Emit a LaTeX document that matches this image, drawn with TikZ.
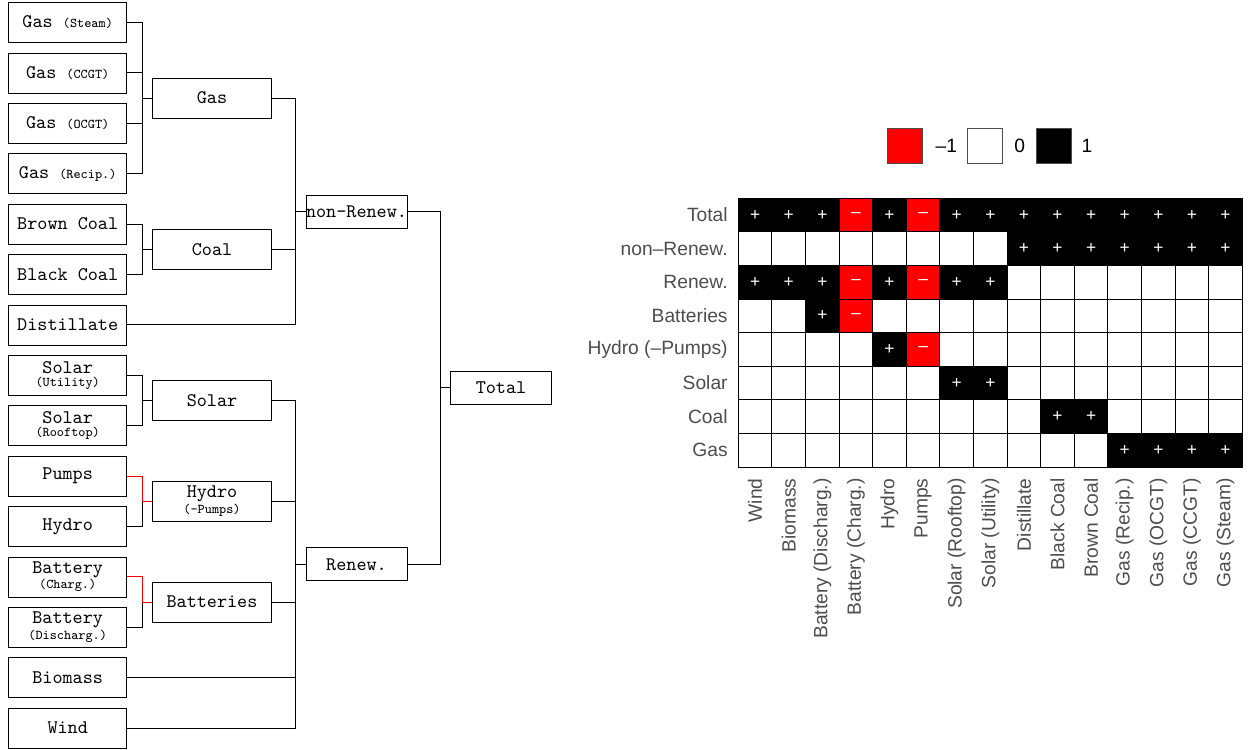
\documentclass[tikz,border=0pt]{standalone}
\usepackage{fontspec}
\setsansfont{Liberation Sans}
\usetikzlibrary{positioning}
\definecolor{axisgray}{RGB}{77,77,77}

\begin{document}
\begin{tikzpicture}[x=0.52pt, y=-0.52pt,
    unitbox/.style={draw, font=\ttfamily, minimum width=61.5pt, minimum height=20.8pt, inner sep=0pt, align=center},
    groupbox/.style={draw, font=\ttfamily, minimum width=52.5pt, minimum height=17.2pt, inner sep=0pt},
    link/.style={line width=0.5pt},
    cell/.style={draw=black, line width=0.5pt, minimum size=17.47pt, inner sep=0pt, text=white, font=\sffamily\small},
    vp/.style={fill=black, execute at begin node={+}},
    vn/.style={fill=red, execute at begin node={–}},
    vo/.style={fill=white},
    rowlab/.style={anchor=east, inner sep=0pt, text=axisgray, font=\sffamily},
    collab/.style={anchor=east, rotate=90, inner sep=0pt, text=axisgray, font=\sffamily},
    legbox/.style={draw=axisgray, line width=0.5pt, minimum size=18.5pt, inner sep=0pt},
    legtxt/.style={inner sep=0pt, font=\sffamily}]

  \useasboundingbox (0,0) rectangle (1250,749);

  % Units
  \foreach \name/\txt [count=\i from 0] in {
      gassteam/{Gas {\scriptsize(Steam)}}, gasccgt/{Gas {\scriptsize(CCGT)}},
      gasocgt/{Gas {\scriptsize(OCGT)}}, gasrecip/{Gas {\scriptsize(Recip.)}},
      browncoal/{Brown Coal}, blackcoal/{Black Coal}, distillate/Distillate,
      solarutil/{Solar\\[-5.5pt]{\scriptsize(Utility)}}, solarroof/{Solar\\[-5.5pt]{\scriptsize(Rooftop)}},
      pumps/Pumps, hydro/Hydro,
      battcharg/{Battery\\[-4pt]{\scriptsize(Charg.)}}, battdis/{Battery\\[-4pt]{\scriptsize(Discharg.)}},
      biomass/Biomass, wind/Wind}
    \node[unitbox] (\name) at (67.7, 22.5+50.4*\i) {\txt};

  % Groups
  \node[unitbox] (gas) at (212, 98.1) {Gas};
  \node[unitbox] (coal) at (212, 249.3) {Coal};
  \node[unitbox] (solar) at (212, 400.5) {Solar};
  \node[unitbox] (hydropump) at (212, 501.3) {Hydro\\[-4pt]{\scriptsize(-Pumps)}};
  \node[unitbox] (batteries) at (212, 602.1) {Batteries};
  \node[groupbox] (nonrenew) at (356.5, 211.5) {non-Renew.};
  \node[groupbox] (renew) at (356.5, 564.3) {Renew.};
  \node[groupbox] (total) at (501, 387.9) {Total};

  % Links
  \foreach \c/\p in {gassteam/gas, gasccgt/gas, gasocgt/gas, gasrecip/gas,
      browncoal/coal, blackcoal/coal, solarutil/solar, solarroof/solar,
      hydro/hydropump, battdis/batteries,
      gas/nonrenew, coal/nonrenew, distillate/nonrenew,
      solar/renew, hydropump/renew, batteries/renew, biomass/renew, wind/renew,
      nonrenew/total, renew/total}
    \draw[link] (\c.east) -| ([xshift=-5.2pt]\p.west) -- (\p.west);
  % Negative contributions
  \foreach \c/\p in {pumps/hydropump, battcharg/batteries}
    \draw[link, red] (\c.east) -| ([xshift=-5.2pt]\p.west) -- (\p.west);

  % Legend
  \node[legbox, fill=red] (legneg) at (905, 146) {};
  \node[legtxt, right=6.2pt of legneg] (legnegtxt) {–1};
  \node[legbox, fill=white] (legzero) at (985, 146) {};
  \node[legtxt, right=5.6pt of legzero] (legzerotxt) {0};
  \node[legbox, fill=black] (legpos) at (1054, 146) {};
  \node[legtxt, right=4.6pt of legpos] (legpostxt) {1};

  % Matrix labels
  \foreach \lab [count=\r from 0] in {Total, non–Renew., Renew., Batteries,
      Hydro (–Pumps), Solar, Coal, Gas}
    \node[rowlab] (row\r) at (728, 215.1+33.6*\r) {\lab};
  \foreach \lab [count=\c from 0] in {Wind, Biomass, Battery (Discharg.),
      Battery (Charg.), Hydro, Pumps, Solar (Rooftop), Solar (Utility),
      Distillate, Black Coal, Brown Coal, Gas (Recip.), Gas (OCGT),
      Gas (CCGT), Gas (Steam)}
    \node[collab] (col\c) at (755.1+33.6*\c, 478) {\lab};

  % Matrix cells
  \foreach \vals [count=\r from 0] in {
      {p,p,p,n,p,n,p,p,p,p,p,p,p,p,p},
      {o,o,o,o,o,o,o,o,p,p,p,p,p,p,p},
      {p,p,p,n,p,n,p,p,o,o,o,o,o,o,o},
      {o,o,p,n,o,o,o,o,o,o,o,o,o,o,o},
      {o,o,o,o,p,n,o,o,o,o,o,o,o,o,o},
      {o,o,o,o,o,o,p,p,o,o,o,o,o,o,o},
      {o,o,o,o,o,o,o,o,o,p,p,o,o,o,o},
      {o,o,o,o,o,o,o,o,o,o,o,p,p,p,p}}
    \foreach \v [count=\c from 0] in \vals
      \node[cell, v\v] (m\r-\c) at (755.1+33.6*\c, 215.1+33.6*\r) {};
\end{tikzpicture}
\end{document}
